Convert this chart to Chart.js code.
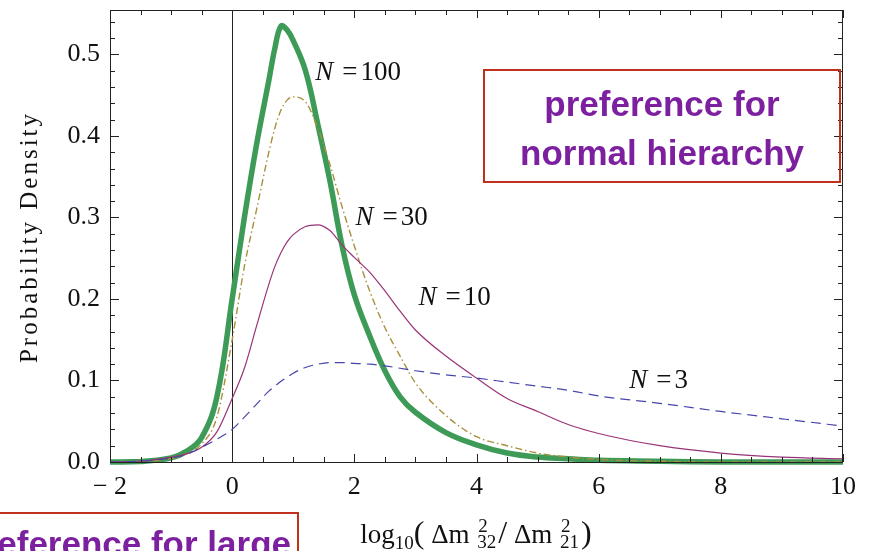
<!DOCTYPE html>
<html>
<head>
<meta charset="utf-8">
<script src="https://cdn.jsdelivr.net/npm/chart.js@4.4.0/dist/chart.umd.min.js"></script>
<style>
  html, body { margin: 0; padding: 0; background: #fff; }
  #c { display: block; }
</style>
</head>
<body>
<canvas id="c" width="873" height="551"></canvas>
<script>
// x grid of log10(dm32^2/dm21^2)
const xs = [-2, -1.5, -1, -0.75, -0.5, -0.25, 0, 0.2, 0.4, 0.6, 0.7, 0.8, 0.9, 1.0, 1.2, 1.4, 1.6, 1.8, 2.0, 2.25, 2.5, 2.75, 3, 3.5, 4, 4.5, 5, 5.5, 6, 7, 8, 9, 10]

const n100 = [0, 0.0005, 0.005, 0.013, 0.03, 0.08, 0.2, 0.30, 0.39, 0.468, 0.508, 0.535, 0.53, 0.517, 0.48, 0.415, 0.345, 0.265, 0.205, 0.155, 0.112, 0.08, 0.061, 0.036, 0.021, 0.011, 0.006, 0.004, 0.002, 0.001, 0, 0, 0]
const n30 = [0, 0.0005, 0.004, 0.01, 0.022, 0.055, 0.15, 0.24, 0.31, 0.38, 0.41, 0.432, 0.444, 0.448, 0.442, 0.41, 0.365, 0.313, 0.265, 0.21, 0.165, 0.13, 0.097, 0.057, 0.031, 0.02, 0.011, 0.006, 0.003, 0.001, 0, 0, 0]
const n10 = [0, 0.001, 0.006, 0.01, 0.018, 0.037, 0.078, 0.115, 0.167, 0.218, 0.24, 0.257, 0.27, 0.279, 0.289, 0.291, 0.284, 0.266, 0.251, 0.233, 0.21, 0.185, 0.162, 0.13, 0.103, 0.078, 0.062, 0.046, 0.035, 0.02, 0.011, 0.006, 0.004]
const n3 = [0, 0.001, 0.005, 0.009, 0.018, 0.028, 0.04, 0.055, 0.071, 0.087, 0.093, 0.099, 0.104, 0.109, 0.116, 0.12, 0.122, 0.122, 0.121, 0.12, 0.118, 0.115, 0.112, 0.107, 0.103, 0.098, 0.093, 0.088, 0.081, 0.072, 0.062, 0.053, 0.044]

const xTicks = [-2, 0, 2, 4, 6, 8, 10]
const yTicks = [0, 0.1, 0.2, 0.3, 0.4, 0.5]

// N = ... labels: text, x, y (data coords of left/middle)
const curveLabels = [
  ['100', 1.36, 0.478],
  ['30', 2.02, 0.299],
  ['10', 3.05, 0.201],
  ['3', 6.5, 0.099]
]

const serif = "'Liberation Serif', 'Times New Roman', serif"
const sans = "'Liberation Sans', Arial, Helvetica, sans-serif"
const purple = '#7d20a0'
const boxRed = '#c0301c'

function toPoints(ys) {
  return xs.map((x, i) => ({ x: x, y: ys[i] }))
}

function noPad(s) {
  s.paddingTop = 0
  s.paddingBottom = 0
  s.paddingLeft = 0
  s.paddingRight = 0
}

// frame, inward ticks, x=0 line, texts and boxes
const framePlugin = {
  id: 'frame',
  beforeDatasetsDraw(chart) {
    const { ctx, chartArea: a, scales } = chart
    const x0 = scales.x.getPixelForValue(0)
    ctx.save()
    ctx.strokeStyle = '#222'
    ctx.lineWidth = 1
    ctx.beginPath()
    ctx.moveTo(Math.round(x0) + 0.5, a.top)
    ctx.lineTo(Math.round(x0) + 0.5, a.bottom)
    ctx.stroke()
    ctx.restore()
  },
  afterDatasetsDraw(chart) {
    const { ctx, chartArea: a, scales } = chart
    ctx.save()
    ctx.strokeStyle = '#222'
    ctx.lineWidth = 1
    ctx.strokeRect(a.left + 0.5, a.top + 0.5, a.right - a.left - 1, a.bottom - a.top)

    ctx.beginPath()
    for (let v = -2; v <= 10.001; v += 0.5) {
      const px = Math.round(scales.x.getPixelForValue(v)) + 0.5
      const major = Math.abs(v % 2) < 0.001
      const len = major ? 8 : 5
      ctx.moveTo(px, a.bottom); ctx.lineTo(px, a.bottom - len)
      ctx.moveTo(px, a.top); ctx.lineTo(px, a.top + len)
    }
    for (let k = 0; k <= 27; k++) {
      const v = k * 0.02
      const py = Math.round(scales.y.getPixelForValue(v)) + 0.5
      const len = k % 5 === 0 ? 9 : 5
      ctx.moveTo(a.left, py); ctx.lineTo(a.left + len, py)
      ctx.moveTo(a.right, py); ctx.lineTo(a.right - len, py)
    }
    ctx.stroke()
    ctx.restore()
  },
  afterDraw(chart) {
    const { ctx, chartArea: a, scales } = chart
    ctx.save()
    ctx.fillStyle = '#111'
    ctx.textBaseline = 'middle'

    // N = labels
    curveLabels.forEach(l => {
      let px = scales.x.getPixelForValue(l[1])
      const py = scales.y.getPixelForValue(l[2])
      ctx.font = 'italic 27px ' + serif
      ctx.textAlign = 'left'
      ctx.fillText('N', px, py)
      px += ctx.measureText('N').width + 9
      ctx.font = '27px ' + serif
      ctx.fillText('=', px, py)
      px += ctx.measureText('=').width + 3
      ctx.fillText(l[0], px, py)
    })

    // y axis title
    ctx.save()
    ctx.translate(30, 237)
    ctx.rotate(-Math.PI / 2)
    ctx.font = '25px ' + serif
    ctx.letterSpacing = '3px'
    ctx.textAlign = 'center'
    ctx.fillText('Probability Density', 0, 0)
    ctx.restore()

    // x axis title: log10( Δm²32 / Δm²21 )
    const big = '27px ' + serif
    const small = '19px ' + serif
    const paren = '32px ' + serif
    const parts = [
      ['log', big, 0], ['10', small, 6], ['(', paren, 0], [' Δm ', big, 0],
      [['2', '32'], small, 0], ['/', paren, 0], [' Δm ', big, 0], [['2', '21'], small, 0], [')', paren, 0]
    ]
    const widthOf = p => {
      ctx.font = p[1]
      if (Array.isArray(p[0])) return Math.max(ctx.measureText(p[0][0]).width, ctx.measureText(p[0][1]).width) + 3
      return ctx.measureText(p[0]).width
    }
    const total = parts.reduce((s, p) => s + widthOf(p), 0)
    let cx = 476 - total / 2
    const base = 543
    ctx.textBaseline = 'alphabetic'
    ctx.textAlign = 'left'
    parts.forEach(p => {
      const w = widthOf(p)
      ctx.font = p[1]
      if (Array.isArray(p[0])) {
        ctx.fillText(p[0][0], cx + 2, base - 11)
        ctx.fillText(p[0][1], cx + 1, base + 5)
      } else {
        ctx.fillText(p[0], cx, base + p[2])
      }
      cx += w
    })

    // annotation boxes
    ctx.strokeStyle = boxRed
    ctx.lineWidth = 2
    ctx.strokeRect(484, 70, 356, 112)
    ctx.strokeRect(-60, 513, 358, 80)
    ctx.fillStyle = purple
    ctx.font = 'bold 35px ' + sans
    ctx.textAlign = 'center'
    ctx.fillText('preference for', 662, 116)
    ctx.fillText('normal hierarchy', 662, 165)
    ctx.textAlign = 'right'
    ctx.fillText('preference for large', 291, 556)
    ctx.restore()
  }
}

const ctx = document.getElementById('c').getContext('2d')
const chart = new Chart(ctx, {
  type: 'line',
  data: {
    datasets: [
      { label: 'N=3', data: toPoints(n3), borderColor: '#4646aa', borderWidth: 1.2, borderDash: [10, 6] },
      { label: 'N=10', data: toPoints(n10), borderColor: '#993378', borderWidth: 1.2 },
      { label: 'N=30', data: toPoints(n30), borderColor: '#a88f3c', borderWidth: 1.4, borderDash: [7, 3, 1.5, 3] },
      { label: 'N=100', data: toPoints(n100), borderColor: '#3d9b57', borderWidth: 5.5, cubicInterpolationMode: 'default', tension: 0.4 }
    ]
  },
  options: {
    responsive: false,
    animation: false,
    layout: { padding: { top: 10, right: 30, left: 0, bottom: 0 } },
    elements: {
      point: { radius: 0 },
      line: { cubicInterpolationMode: 'monotone', fill: false }
    },
    datasets: { line: { clip: 6 } },
    plugins: {
      legend: { display: false },
      tooltip: { enabled: false }
    },
    scales: {
      x: {
        type: 'linear',
        min: -2,
        max: 10,
        afterBuildTicks: s => { s.ticks = xTicks.map(v => ({ value: v })) },
        afterFit: s => { s.height = 89; noPad(s) },
        grid: { display: false, drawTicks: false },
        border: { display: false },
        ticks: {
          padding: 10,
          color: '#111',
          font: { family: serif, size: 26 },
          maxRotation: 0,
          callback: v => v < 0 ? '− ' + Math.abs(v) : String(v)
        }
      },
      y: {
        min: 0,
        max: 0.5546,
        afterBuildTicks: s => { s.ticks = yTicks.map(v => ({ value: v })) },
        afterFit: s => { s.width = 110; noPad(s) },
        grid: { display: false, drawTicks: false },
        border: { display: false },
        ticks: {
          padding: 10,
          color: '#111',
          font: { family: serif, size: 26 },
          callback: v => Number(v).toFixed(1)
        }
      }
    }
  },
  plugins: [framePlugin]
})
</script>
</body>
</html>
